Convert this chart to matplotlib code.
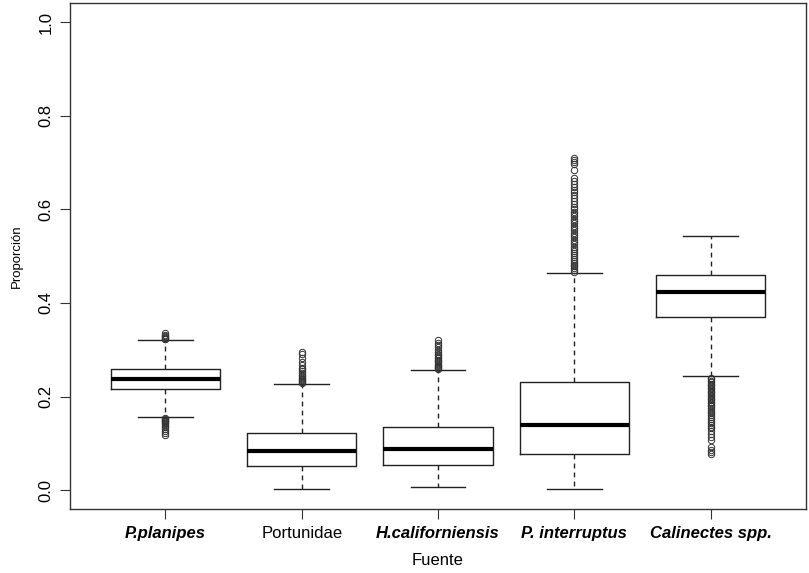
import matplotlib
matplotlib.use("Agg")
import matplotlib.pyplot as plt

plt.rcParams['font.family'] = ['Liberation Sans', 'DejaVu Sans']

categories = ["P.planipes", "Portunidae", "H.californiensis", "P. interruptus", "Calinectes spp."]
label_styles = ["italic", "normal", "italic", "italic", "italic"]
label_weights = ["bold", "normal", "bold", "bold", "bold"]

medians = [0.238, 0.083, 0.0875, 0.140, 0.423]
q1 = [0.217, 0.051, 0.053, 0.078, 0.371]
q3 = [0.260, 0.122, 0.136, 0.232, 0.459]
whisker_low = [0.157, 0.002, 0.006, 0.002, 0.243]
whisker_high = [0.320, 0.228, 0.257, 0.463, 0.542]

outliers_planipes = [0.322, 0.324, 0.326, 0.328, 0.330, 0.332, 0.335,
                     0.155, 0.153, 0.151, 0.149, 0.147, 0.145, 0.143, 0.141,
                     0.138, 0.135, 0.131, 0.127, 0.122, 0.117]
outliers_portunidae = [0.230, 0.232, 0.234, 0.236, 0.238, 0.240, 0.243, 0.246,
                       0.250, 0.254, 0.258, 0.262, 0.268, 0.275, 0.283, 0.290, 0.295]
outliers_hcal = [0.260, 0.262, 0.264, 0.266, 0.268, 0.270, 0.273, 0.276, 0.279,
                 0.282, 0.285, 0.288, 0.292, 0.296, 0.300, 0.305, 0.310, 0.315, 0.320]
outliers_interruptus = [0.466, 0.470, 0.474, 0.478, 0.482, 0.486, 0.490, 0.494,
                        0.498, 0.502, 0.506, 0.510, 0.515, 0.520, 0.525, 0.530,
                        0.535, 0.540, 0.545, 0.550, 0.555, 0.560, 0.565, 0.570,
                        0.575, 0.580, 0.585, 0.590, 0.595, 0.600, 0.606, 0.612,
                        0.618, 0.624, 0.630, 0.636, 0.642, 0.648, 0.654, 0.660,
                        0.666, 0.684, 0.697, 0.702, 0.706, 0.710]
outliers_calinectes = [0.240, 0.237, 0.234, 0.231, 0.228, 0.225, 0.222, 0.219,
                       0.216, 0.213, 0.210, 0.207, 0.204, 0.201, 0.198, 0.195,
                       0.192, 0.189, 0.186, 0.183, 0.180, 0.176, 0.172, 0.168,
                       0.164, 0.160, 0.156, 0.152, 0.148, 0.144, 0.140, 0.136,
                       0.132, 0.127, 0.121, 0.114, 0.108, 0.093, 0.087, 0.082, 0.077]
outliers = [outliers_planipes, outliers_portunidae, outliers_hcal,
            outliers_interruptus, outliers_calinectes]

yticks = [0.0, 0.2, 0.4, 0.6, 0.8, 1.0]
ytick_labels = ["0.0", "0.2", "0.4", "0.6", "0.8", "1.0"]

stats = []
for i in range(len(categories)):
    stats.append(dict(med=medians[i], q1=q1[i], q3=q3[i],
                      whislo=whisker_low[i], whishi=whisker_high[i],
                      fliers=outliers[i], label=categories[i]))

fig = plt.figure(figsize=(8.09, 5.73), dpi=100)
W, H = 809, 573
ax = fig.add_axes([70 / W, 1 - 509 / H, (806 - 70) / W, (509 - 3.3) / H])

positions = list(range(1, len(categories) + 1))
ax.bxp(stats, positions=positions, widths=0.8,
       boxprops=dict(color='#222222', linewidth=1.0),
       medianprops=dict(color='black', linewidth=3.0, solid_capstyle='butt'),
       whiskerprops=dict(color='#222222', linewidth=1.0, linestyle=(0, (3.5, 3))),
       capprops=dict(color='#222222', linewidth=1.0),
       capwidths=0.4,
       flierprops=dict(marker='o', markersize=4.6, markerfacecolor='none',
                       markeredgecolor='#333333', markeredgewidth=0.7, linestyle='none'))

ax.set_xlim(0.3, 5.7)
ax.set_ylim(-0.04, 1.04)

ax.set_yticks(yticks)
ax.set_yticklabels(ytick_labels, rotation=90, va='center', fontsize=12)
ax.set_xticks(positions)
ax.set_xticklabels(categories, fontsize=12)
for lbl, st, wt in zip(ax.get_xticklabels(), label_styles, label_weights):
    lbl.set_style(st)
    lbl.set_fontweight(wt)

ax.tick_params(axis='both', direction='out', length=7, width=0.8, color='#333333')
ax.tick_params(axis='x', pad=5)
ax.tick_params(axis='y', pad=5)
for sp in ax.spines.values():
    sp.set_color('#333333')
    sp.set_linewidth(1.0)

ax.set_xlabel("Fuente", fontsize=12, labelpad=9)
ax.set_ylabel("Proporción", fontsize=9.5, labelpad=11)

fig.savefig("out.png", dpi=100)
